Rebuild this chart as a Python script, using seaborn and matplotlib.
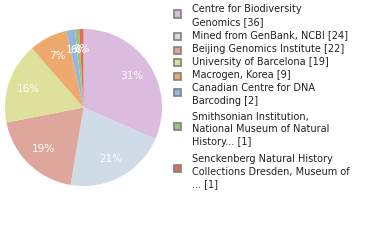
import matplotlib
matplotlib.use("Agg")
import matplotlib.pyplot as plt
import seaborn as sns
from matplotlib.patches import Rectangle

sns.set_style("white")
plt.rcParams['font.family'] = ['DejaVu Sans']

institutions = [
    "Centre for Biodiversity\nGenomics",
    "Mined from GenBank, NCBI",
    "Beijing Genomics Institute",
    "University of Barcelona",
    "Macrogen, Korea",
    "Canadian Centre for DNA\nBarcoding",
    "Smithsonian Institution,\nNational Museum of Natural\nHistory...",
    "Senckenberg Natural History\nCollections Dresden, Museum of\n...",
]
counts = [36, 24, 22, 19, 9, 2, 1, 1]
colors = ["#dcbcde", "#cfdbe7", "#dfa79c", "#dde19b", "#eeaa6e", "#95b5dd", "#99c67b", "#dc6f57"]

W, H = 380, 240
fig = plt.figure(figsize=(W / 100, H / 100), dpi=100)

cx, cy, r = 83.5, 107.5, 78.5
ax = fig.add_axes([(cx - r) / W, (H - cy - r) / H, 2 * r / W, 2 * r / H])
ax.pie(counts, colors=colors, startangle=90, counterclock=False,
       autopct=lambda p: f"{int(p)}%", pctdistance=0.74,
       wedgeprops=dict(linewidth=0),
       textprops=dict(color="white", fontsize=7.5))
ax.set_aspect("equal")
ax.set_xlim(-1, 1)
ax.set_ylim(-1, 1)
ax.axis("off")

# legend (layout positions in pixels)
square_y = [14, 36.5, 50, 62.5, 76, 92.5, 126.5, 168]
text_y = [9.5, 35.5, 49, 62, 75.5, 88, 117, 159]
line_h = 12.5
for lab, n, col, sy, ty in zip(institutions, counts, colors, square_y, text_y):
    fig.patches.append(Rectangle((174 / W, 1 - (sy + 3.5) / H), 7 / W, 7 / H,
                                 transform=fig.transFigure, facecolor=col,
                                 edgecolor="#808080", linewidth=1.2))
    lines = (lab + f" [{n}]").split("\n")
    for i, ln in enumerate(lines):
        fig.text(192 / W, 1 - (ty + i * line_h) / H, ln, fontsize=7.0,
                 color="#222222", va="center", ha="left")

fig.savefig("out.png", dpi=100)
